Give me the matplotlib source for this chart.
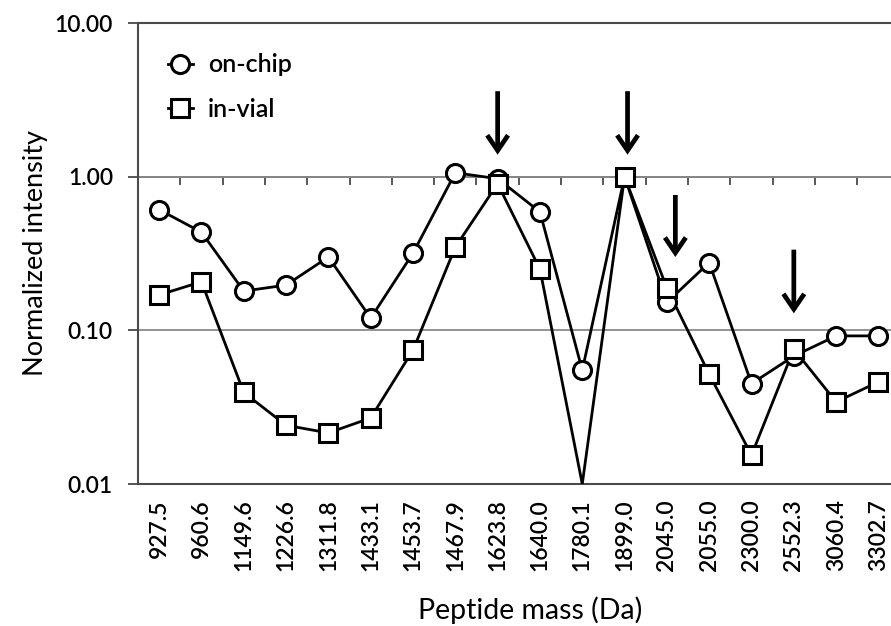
import numpy as np
import matplotlib
matplotlib.use("Agg")
import matplotlib.pyplot as plt
from matplotlib.lines import Line2D

# ---------------- data ----------------
masses = ["927.5", "960.6", "1149.6", "1226.6", "1311.8", "1433.1", "1453.7",
          "1467.9", "1623.8", "1640.0", "1780.1", "1899.0", "2045.0", "2055.0",
          "2300.0", "2552.3", "3060.4", "3302.7"]
on_chip = [0.61, 0.435, 0.18, 0.197, 0.30, 0.12, 0.318, 1.06, 0.97, 0.59,
           0.055, 1.0, 0.152, 0.276, 0.045, 0.068, 0.092, 0.092]
in_vial = [0.17, 0.207, 0.0394, 0.0241, 0.0215, 0.0269, 0.0744, 0.348, 0.90,
           0.25, 0.0, 1.0, 0.188, 0.0519, 0.0154, 0.0755, 0.0342, 0.0462]

arrow_at = ["1623.8", "1899.0", "2045.0", "2552.3"]
arrow_shift = [0.0, 0.07, 0.2, 0.0]
arrow_tail = [3.6, 3.6, 0.76, 0.335]
arrow_tip = [1.39, 1.39, 0.30, 0.129]

y_ticks = [0.01, 0.1, 1, 10]
y_ticklabels = ["0.01", "0.10", "1.00", "10.00"]
y_min, y_max = 0.01, 10

plt.rcParams["font.family"] = ["Lato", "DejaVu Sans"]
plt.rcParams["font.weight"] = "semibold"

fig = plt.figure(figsize=(8.91, 6.26), dpi=100)
ax = fig.add_axes([138 / 891, 1 - 484 / 626, 761.6 / 891, 461 / 626])

x = np.arange(len(masses))
on = np.array(on_chip, dtype=float)
iv = np.array(in_vial, dtype=float)

ax.set_yscale("log")
ax.set_ylim(y_min, y_max)
ax.set_xlim(-0.5, len(masses) - 0.5)

# gridlines
ax.yaxis.grid(True, which="major", color="#8a8a8a", linewidth=1.3)
ax.set_axisbelow(True)

lw = 2.0
ms = 13
mew = 2.2

# lines (non-detected values drop to the axis floor)
on_line = np.where(on > 0, on, y_min)
iv_line = np.where(iv > 0, iv, y_min)
ax.plot(x, on_line, color="black", lw=lw, zorder=3)
ax.plot(x, iv_line, color="black", lw=lw, zorder=3)

# markers
on_m = np.ma.masked_where(on <= 0, on)
iv_m = np.ma.masked_where(iv <= 0, iv)
ax.plot(x, on_m, ls="none", marker="o", ms=ms, mfc="white", mec="black",
        mew=mew, zorder=4, clip_on=False)
ax.plot(x, iv_m, ls="none", marker="s", ms=ms, mfc="white", mec="black",
        mew=mew, zorder=5, clip_on=False)

handles = [
    Line2D([], [], color="black", lw=lw, marker="o", ms=ms, mfc="white",
           mec="black", mew=mew),
    Line2D([], [], color="black", lw=lw, marker="s", ms=ms, mfc="white",
           mec="black", mew=mew),
]
ax.legend(handles, ["on-chip", "in-vial"], loc="upper left",
          bbox_to_anchor=(0.039, 0.934), frameon=False, fontsize=18,
          handlelength=1.0, handletextpad=0.6, labelspacing=0.85,
          borderpad=0, borderaxespad=0)

# arrows
for m, dx, t0, t1 in zip(arrow_at, arrow_shift, arrow_tail, arrow_tip):
    xi = masses.index(m) + dx
    ax.annotate("", xy=(xi, t1), xytext=(xi, t0),
                arrowprops=dict(arrowstyle="->,head_length=1.1,head_width=0.75",
                                color="black", lw=3.4, shrinkA=0, shrinkB=0,
                                capstyle="butt", joinstyle="miter"),
                zorder=6)

# axes styling
for s in ["left", "bottom", "top"]:
    ax.spines[s].set_color("#4a4a4a")
    ax.spines[s].set_linewidth(1.5)
ax.spines["right"].set_visible(False)

ax.set_yticks(y_ticks)
ax.set_yticklabels(y_ticklabels)
ax.yaxis.set_minor_locator(matplotlib.ticker.NullLocator())
ax.tick_params(axis="y", which="major", direction="out", length=7, width=1.3,
               color="#4a4a4a", pad=11, labelsize=16.5)

ax.set_xticks(x)
ax.set_xticklabels(masses, rotation=90)
ax.tick_params(axis="x", length=0, pad=11, labelsize=16.5)

# category-boundary tick marks on the axis crossing at 1.00
sec = ax.secondary_xaxis(2 / 3)
sec.set_xticks(np.arange(0.5, len(masses) - 0.5, 1.0))
sec.set_xticklabels([])
sec.tick_params(axis="x", direction="in", length=6, width=1.3, color="#4a4a4a")
for s in sec.spines.values():
    s.set_color("#555555")
    s.set_linewidth(1.3)

ax.set_ylabel("Normalized intensity", fontsize=19.5, labelpad=5)
ax.set_xlabel("Peptide mass (Da)", fontsize=20.5)
ax.xaxis.set_label_coords(0.515, -0.243)

fig.savefig("out.png", dpi=100)
